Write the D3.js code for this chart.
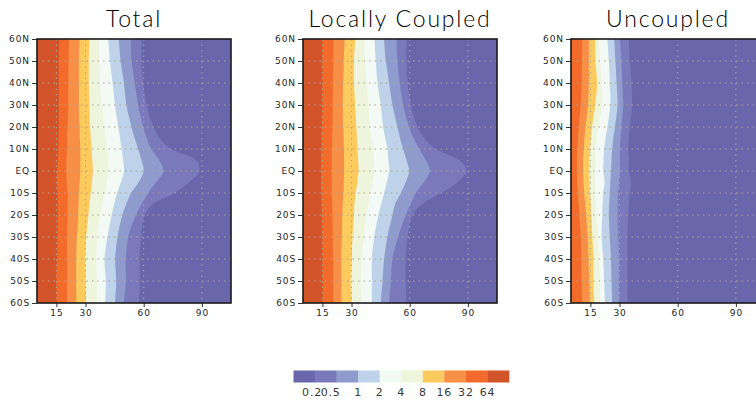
<!DOCTYPE html>
<html><head><meta charset="utf-8">
<script src="https://cdn.jsdelivr.net/npm/d3@7"></script>
<style>
html,body{margin:0;padding:0;background:#fff;}
svg{display:block;}
</style></head>
<body>
<svg id="chart" width="756" height="400"></svg>
<script>
// ---------------- data ----------------
const lats = [60,50,40,30,20,15,10,5,0,-5,-10,-15,-20,-30,-40,-50,-60];
const levels = [0.2,0.5,1,2,4,8,16,32,64];
const levelLabels = ["0.2","0.5","1","2","4","8","16","32","64"];
const colors = ["#6a66ac","#7a79bc","#8f9bcd","#bed3e9","#f3f9f5","#eff4dc","#fdca5d","#f88f47","#f26b2b","#d2542b"];
const xTicks = [15,30,60,90];
const latTicks = [60,50,40,30,20,10,0,-10,-20,-30,-40,-50,-60];
const latTickLabels = ["60N","50N","40N","30N","20N","10N","EQ","10S","20S","30S","40S","50S","60S"];
const titles = ["Total","Locally Coupled","Uncoupled"];

// contour positions (x-axis units) of each level, one value per latitude in `lats`
const total = [
  [58.8,58.8,59.7,61.4,65.1,68.2,74.0,86.9,88.7,83.5,76.0,64.8,60.5,58.5,58.0,58.0,57.6], // 0.2
  [53.4,53.7,55.4,57.1,59.7,61.5,63.9,67.9,70.2,66.5,62.2,59.0,56.0,52.0,50.8,50.8,49.8], // 0.5
  [47.2,48.1,49.8,51.1,53.7,55.3,57.1,58.8,60.0,57.5,53.5,51.0,49.0,46.5,45.3,45.8,45.2], // 1
  [41.8,42.6,44.0,45.2,46.9,47.8,48.6,49.4,49.8,48.3,46.3,44.8,43.5,41.3,39.8,40.5,40.1], // 2
  [37.0,37.2,37.5,38.4,39.6,40.2,40.9,41.5,41.8,41.0,40.0,38.8,37.6,36.0,35.5,35.8,35.8], // 4
  [32.0,31.7,31.7,32.0,32.4,32.7,33.1,33.5,33.8,33.3,32.7,32.0,31.5,30.3,29.8,30.0,30.3], // 8
  [26.9,26.6,26.6,26.6,26.9,27.1,27.3,27.3,27.3,27.0,26.6,26.4,26.3,25.6,25.2,25.2,25.2], // 16
  [21.5,21.3,21.1,21.1,20.8,20.6,20.5,20.1,20.1,20.3,20.8,20.8,20.8,20.5,20.5,20.5,20.5], // 32
  [16.5,16.3,16.3,16.3,16.3,16.1,16.0,15.7,15.3,15.3,15.6,15.6,15.6,15.6,15.3,15.0,15.3]  // 64
];
const locallyCoupled = [
  [58.3,58.3,58.9,60.6,64.0,67.5,73.5,85.5,89.3,84.7,76.1,66.6,61.4,58.9,58.0,58.0,58.3],
  [53.2,53.7,54.9,56.6,59.7,62.0,64.9,68.3,70.4,67.5,63.2,60.5,58.0,54.0,51.1,50.3,49.4],
  [46.8,47.7,49.4,51.1,53.7,55.0,56.6,58.3,59.7,58.0,55.4,52.5,51.1,48.5,46.8,46.0,45.1],
  [41.9,42.5,43.4,45.1,46.3,47.4,48.5,49.0,49.4,48.2,46.8,45.3,43.9,41.7,40.5,40.5,40.5],
  [36.8,37.0,37.7,38.7,39.4,40.2,41.1,41.5,41.7,40.8,39.9,38.8,37.7,36.5,35.3,34.8,35.3],
  [31.9,31.3,31.3,31.9,32.5,32.8,33.1,33.4,33.6,33.0,32.2,31.5,31.3,30.5,30.1,29.6,30.1],
  [26.5,26.0,25.7,25.5,25.7,25.9,26.1,26.2,26.2,26.0,25.8,25.5,25.3,25.0,24.7,24.7,24.8],
  [20.7,20.6,20.4,20.3,20.2,20.0,19.9,19.8,19.8,19.8,19.9,20.0,20.2,20.3,20.5,20.5,20.6],
  [15.0,15.0,15.0,15.0,14.8,14.6,14.5,14.3,14.3,14.3,14.5,14.6,14.8,15.0,15.0,15.1,15.3]
];
const uncoupled = [
  [34.8,35.3,36.2,36.5,35.3,34.8,34.5,34.8,34.8,35.8,35.3,34.8,34.5,34.1,34.1,34.1,34.1],
  [30.2,31.0,31.4,31.9,31.0,30.5,30.2,30.2,30.2,29.8,29.3,29.1,29.0,29.3,29.7,29.7,29.7],
  [27.3,27.9,28.5,29.0,27.6,26.8,26.2,25.9,25.6,25.3,25.0,24.7,24.5,25.0,25.6,25.9,26.2],
  [23.8,24.5,25.0,25.2,23.8,22.8,22.1,21.8,21.6,22.3,21.6,21.3,21.1,20.8,21.6,22.1,22.5],
  [19.4,20.0,20.8,21.0,19.0,18.3,17.7,17.5,17.3,17.5,17.5,17.8,18.2,19.0,19.4,19.9,19.9],
  [17.5,17.6,18.4,17.5,15.8,15.3,14.8,14.5,14.4,14.5,14.8,15.2,15.5,16.0,16.5,16.6,17.0],
  [14.2,14.2,14.2,13.7,12.5,12.0,11.6,11.3,11.3,11.5,11.8,12.3,12.8,13.6,14.0,14.4,14.6],
  [10.8,10.7,10.5,10.0, 9.0, 8.6, 8.3, 8.1, 8.0, 8.2, 8.5, 8.9, 9.3,10.0,10.3,10.5,10.8],
  null
];
const panelData = [total, locallyCoupled, uncoupled];
const xDomain = [5,105];

// ---------------- layout ----------------
const svg = d3.select("#chart");
const panelLeft = [37, 303, 571];
const plotW = 194, plotTop = 39, plotBottom = 303;
const gridColor = "#aaa58e";
const textColor = "#262626";

panelData.forEach((data, p) => {
  const x = d3.scaleLinear().domain(xDomain).range([panelLeft[p], panelLeft[p] + plotW]);
  const y = d3.scaleLinear().domain([-60, 60]).range([plotBottom, plotTop]);
  const g = svg.append("g");

  const clipId = "clip" + p;
  svg.append("clipPath").attr("id", clipId).append("rect")
    .attr("x", x(xDomain[0])).attr("y", plotTop)
    .attr("width", plotW).attr("height", plotBottom - plotTop);

  const fills = g.append("g").attr("clip-path", `url(#${clipId})`);
  fills.append("rect")
    .attr("x", x(xDomain[0])).attr("y", plotTop)
    .attr("width", plotW).attr("height", plotBottom - plotTop)
    .attr("fill", colors[0]);

  const area = d3.area()
    .curve(d3.curveCatmullRom.alpha(0.5))
    .y(d => y(d.lat))
    .x0(x(xDomain[0]) - 2)
    .x1(d => x(d.v));

  data.forEach((row, k) => {
    if (!row) return;
    const pts = lats.map((lat, i) => ({lat, v: row[i]}));
    const ext = [{lat: 62, v: row[0]}, ...pts, {lat: -62, v: row[row.length - 1]}];
    fills.append("path")
      .attr("d", area(ext))
      .attr("fill", colors[k + 1]);
  });

  // grid
  const grid = g.append("g").attr("clip-path", `url(#${clipId})`);
  grid.selectAll("line.h").data(latTicks.filter(d => Math.abs(d) < 60)).join("line")
    .attr("x1", x(xDomain[0])).attr("x2", x(xDomain[1]))
    .attr("y1", d => y(d)).attr("y2", d => y(d))
    .attr("stroke", gridColor).attr("stroke-width", 1)
    .attr("stroke-dasharray", "1.5,4");
  grid.selectAll("line.v").data(xTicks).join("line")
    .attr("x1", d => x(d)).attr("x2", d => x(d))
    .attr("y1", plotTop).attr("y2", plotBottom)
    .attr("stroke", gridColor).attr("stroke-width", 1)
    .attr("stroke-dasharray", "1.5,4");

  // axes
  const yAxis = d3.axisLeft(y).tickValues(latTicks)
    .tickFormat((d, i) => latTickLabels[i]).tickSize(5).tickPadding(2);
  const ya = g.append("g").attr("transform", `translate(${x(xDomain[0])},0)`).call(yAxis);
  const xAxis = d3.axisBottom(x).tickValues(xTicks).tickSize(4).tickPadding(3);
  const xa = g.append("g").attr("transform", `translate(0,${plotBottom})`).call(xAxis);
  [ya, xa].forEach(a => {
    a.select(".domain").remove();
    a.selectAll("line").attr("stroke", "#333");
    a.selectAll("text").attr("fill", textColor)
      .style("font-family", "'DejaVu Sans', sans-serif")
      .style("font-size", "9px").style("letter-spacing", "0.9px");
  });

  // frame
  g.append("rect")
    .attr("x", x(xDomain[0])).attr("y", plotTop)
    .attr("width", plotW).attr("height", plotBottom - plotTop)
    .attr("fill", "none").attr("stroke", "#1a1a1a").attr("stroke-width", 1.6);

  // title
  g.append("text")
    .attr("x", x(xDomain[0]) + plotW / 2).attr("y", 27)
    .attr("text-anchor", "middle")
    .attr("fill", "#000")
    .style("font-family", "Lato, 'DejaVu Sans', sans-serif")
    .style("font-weight", 300)
    .style("font-size", "23px").style("letter-spacing", "1.8px")
    .text(titles[p]);
});

// ---------------- colorbar ----------------
const cb = svg.append("g");
const cbScale = d3.scaleBand().domain(d3.range(colors.length)).range([293.5, 509]).paddingInner(0);
const cbLabelShift = [-3, -6, 0, 0, 0, 0, 0, 0, 0];
cb.selectAll("rect").data(colors).join("rect")
  .attr("x", (d, i) => cbScale(i)).attr("y", 370.5)
  .attr("width", cbScale.bandwidth() + 0.3).attr("height", 12)
  .attr("fill", d => d);
cb.selectAll("text").data(levelLabels).join("text")
  .attr("x", (d, i) => cbScale(i + 1) + cbLabelShift[i])
  .attr("y", 396)
  .attr("text-anchor", "middle")
  .attr("fill", "#3a3a3a")
  .style("font-family", "'DejaVu Sans', sans-serif")
  .style("font-size", "11px").style("letter-spacing", "0.8px")
  .text(d => d);
</script>
</body></html>
